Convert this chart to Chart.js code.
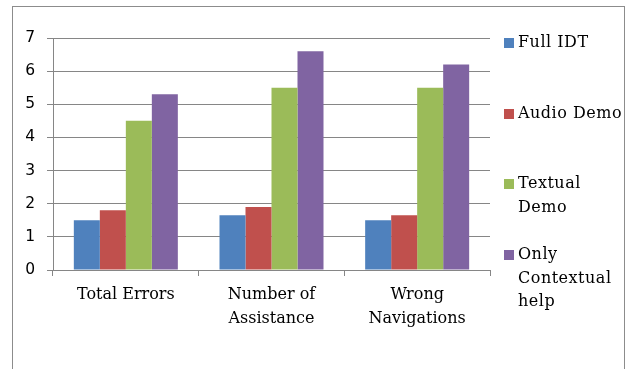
<!DOCTYPE html>
<html>
<head>
<meta charset="utf-8">
<script src="https://cdn.jsdelivr.net/npm/chart.js@4/dist/chart.umd.min.js"></script>
<style>
  html, body { margin: 0; padding: 0; background: #fff; }
  #wrap { position: relative; width: 634px; height: 369px; overflow: hidden; }
  #frame { position: absolute; left: 12px; top: 6px; width: 613px; height: 400px;
           border: 1px solid #8c8c8c; box-sizing: border-box; }
  canvas { position: absolute; left: 0; top: 0; }
</style>
</head>
<body>
<div id="wrap">
  <div id="frame"></div>
  <canvas id="c" width="634" height="369"></canvas>
</div>
<script>
// Categories, series and tick values
const categories = [["Total Errors"], ["Number of", "Assistance"], ["Wrong", "Navigations"]];
const seriesNames = ["Full IDT", "Audio Demo", "Textual Demo", "Only Contextual help"];
const legendLines = [["Full IDT"], ["Audio Demo"], ["Textual", "Demo"], ["Only", "Contextual", "help"]];
const fullIDT = [1.5, 1.65, 1.5];
const audioDemo = [1.8, 1.9, 1.65];
const textualDemo = [4.5, 5.5, 5.5];
const onlyContextual = [5.3, 6.6, 6.2];
const yTicks = [0, 1, 2, 3, 4, 5, 6, 7];

const colors = ["#4F81BD", "#C0504D", "#9BBB59", "#8064A2"];
const seriesValues = [fullIDT, audioDemo, textualDemo, onlyContextual];

const serif = "'DejaVu Serif', 'Liberation Serif', serif";
const gridColor = "#868686";

// Legend drawn at the right side, entries spread evenly like an office chart
const sideLegend = {
  id: 'sideLegend',
  afterDraw(chart) {
    const ctx = chart.ctx;
    ctx.save();
    ctx.font = "16px " + serif;
    ctx.letterSpacing = "0.5px";
    ctx.textBaseline = 'middle';
    const firstY = [43, 114, 184, 255];
    chart.data.datasets.forEach((ds, i) => {
      const y0 = firstY[i];
      ctx.fillStyle = ds.backgroundColor;
      ctx.fillRect(504, y0 - 5, 10, 10);
      ctx.fillStyle = '#000';
      legendLines[i].forEach((line, j) => {
        ctx.fillText(line, 518, y0 + j * 23.5);
      });
    });
    ctx.restore();
  }
};

new Chart(document.getElementById('c'), {
  type: 'bar',
  data: {
    labels: categories,
    datasets: seriesNames.map((name, i) => ({
      label: name,
      data: seriesValues[i],
      backgroundColor: colors[i],
      borderWidth: 0,
      categoryPercentage: 0.714,
      barPercentage: 1.0
    }))
  },
  options: {
    responsive: false,
    animation: false,
    devicePixelRatio: 1,
    layout: { padding: { left: 0, right: 144, top: 38, bottom: 0 } },
    plugins: { legend: { display: false }, tooltip: { enabled: false } },
    scales: {
      x: {
        afterFit(scale) { scale.height = 99; },
        grid: {
          offset: true,
          drawOnChartArea: false,
          drawTicks: true,
          tickLength: 6,
          color: gridColor,
          lineWidth: 1
        },
        border: { display: true, color: gridColor, width: 1 },
        ticks: {
          color: '#000',
          font: { family: serif, size: 16, lineHeight: 1.5 },
          padding: 7,
          maxRotation: 0,
          autoSkip: false
        }
      },
      y: {
        min: 0,
        max: 7,
        afterFit(scale) { scale.width = 53; },
        afterBuildTicks(scale) { scale.ticks = yTicks.map(v => ({ value: v })); },
        grid: {
          color: gridColor,
          lineWidth: 1,
          drawTicks: true,
          tickLength: 6
        },
        border: { display: true, color: gridColor, width: 1 },
        ticks: {
          color: '#000',
          font: { family: "'DejaVu Sans', 'Liberation Sans', sans-serif", size: 15.5 },
          padding: 12
        }
      }
    }
  },
  plugins: [sideLegend]
});
</script>
</body>
</html>
